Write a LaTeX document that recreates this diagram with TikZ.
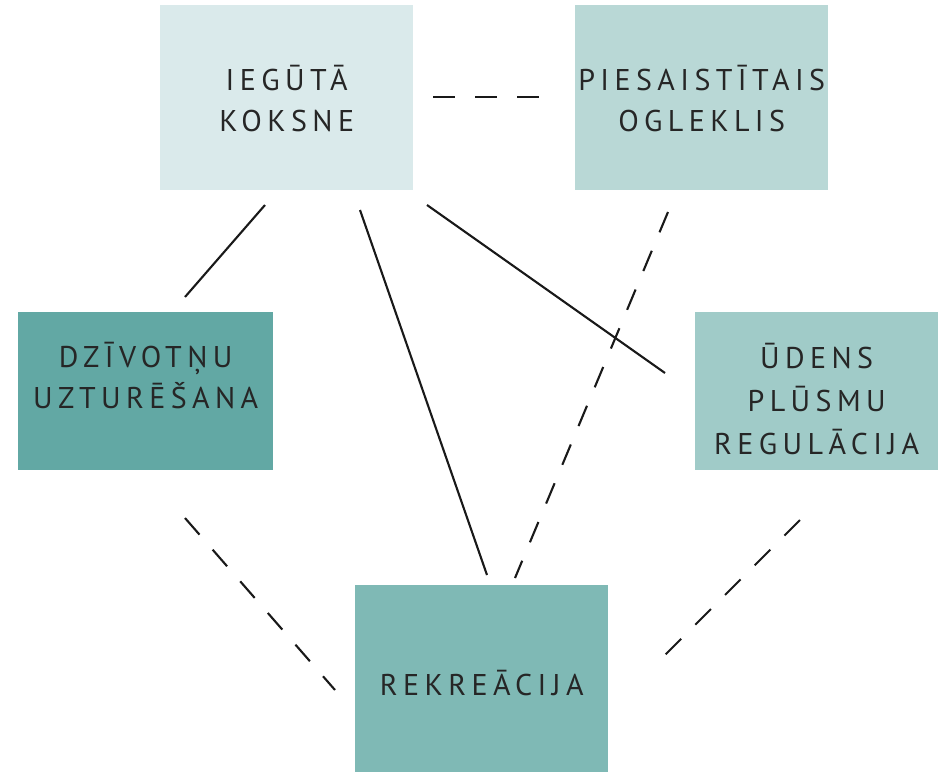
\documentclass[tikz,border=0pt]{standalone}
\usepackage{fontspec}
\setmainfont{PT Sans}[LetterSpace=18]
\definecolor{cA}{HTML}{DAEAEB}
\definecolor{cB}{HTML}{B9D8D6}
\definecolor{cC}{HTML}{62A8A4}
\definecolor{cD}{HTML}{A0CBC8}
\definecolor{cE}{HTML}{7FB9B5}
\tikzset{
  box/.style={anchor=north west, inner sep=0pt},
  label/.style={font=\fontsize{30}{41}\selectfont, align=center, text=black!85, inner sep=0pt},
  solidline/.style={draw=black!90, line width=2.1pt},
  dashline/.style={draw=black!90, line width=2.1pt, dash pattern=on 22pt off 20pt},
}
\begin{document}
\begin{tikzpicture}[x=1pt,y=-1pt]
\useasboundingbox (0,0) rectangle (938,772);
% boxes
\node[box, fill=cA, minimum width=253pt, minimum height=185pt] (kok) at (160,5) {};
\node[label] at ([yshift=-1pt]kok.center) (kokt) {IEGŪTĀ\\KOKSNE};
\node[box, fill=cB, minimum width=253pt, minimum height=185pt] (ogl) at (575,5) {};
\node[label] at ([yshift=-1pt]ogl.center) (oglt) {PIESAISTĪTAIS\\OGLEKLIS};
\node[box, fill=cC, minimum width=255pt, minimum height=158pt] (dzi) at (18,312) {};
\node[label] at ([yshift=16pt]dzi.center) (dzit) {DZĪVOTŅU\\UZTURĒŠANA};
\node[box, fill=cD, minimum width=243pt, minimum height=158pt] (ude) at (695,312) {};
\node[label, font=\fontsize{30}{43}\selectfont] at ([yshift=-8pt]ude.center) (udet) {ŪDENS\\PLŪSMU\\REGULĀCIJA};
\node[box, fill=cE, minimum width=253pt, minimum height=187pt] (rek) at (355,585) {};
\node[label] at ([yshift=-4pt]rek.center) (rekt) {REKREĀCIJA};
% connector ends
\coordinate (a1) at (433,97);  \coordinate (a2) at (557,97);
\coordinate (b1) at (265,205); \coordinate (b2) at (185,297);
\coordinate (c1) at (360,210); \coordinate (c2) at (487,575);
\coordinate (d1) at (427,205); \coordinate (d2) at (665,373);
\coordinate (e1) at (668,212); \coordinate (e2) at (515,578);
\coordinate (f1) at (185,518); \coordinate (f2) at (335,690);
\coordinate (g1) at (800,520); \coordinate (g2) at (652,668);
\draw[dashline] (a1) -- (a2);
\draw[solidline] (b1) -- (b2);
\draw[solidline] (c1) -- (c2);
\draw[solidline] (d1) -- (d2);
\draw[dashline] (e1) -- (e2);
\draw[dashline] (f1) -- (f2);
\draw[dashline] (g1) -- (g2);
\end{tikzpicture}
\end{document}
